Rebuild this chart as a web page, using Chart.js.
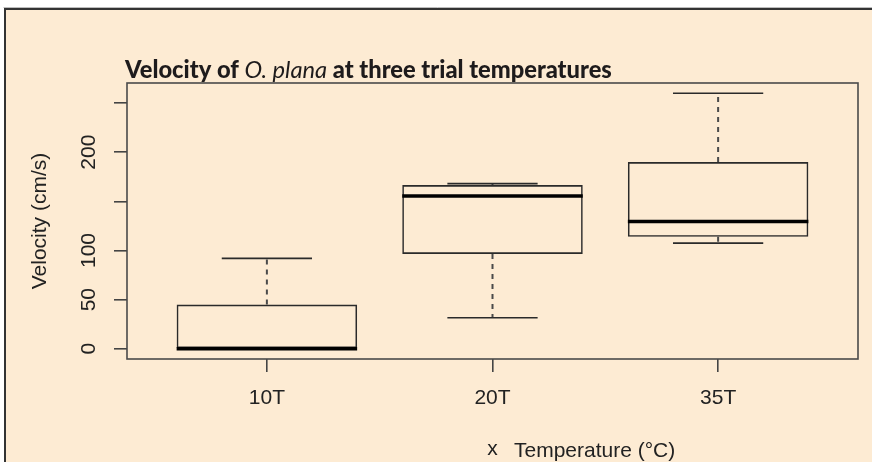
<!DOCTYPE html>
<html>
<head>
<meta charset="utf-8">
<script src="https://cdn.jsdelivr.net/npm/chart.js@4.4.1/dist/chart.umd.min.js"></script>
<style>
  html, body { margin: 0; padding: 0; background: #fff; }
  #wrap { width: 872px; height: 462px; position: relative; }
</style>
</head>
<body>
<div id="wrap"><canvas id="boxChart"></canvas></div>
<script>
// ------------------ DATA ------------------
const categories  = ['10T', '20T', '35T'];
const whiskerLow  = [0, 31.5, 107.5];
const q1          = [0, 96.5, 114];
const medians     = [0, 155.5, 129.5];
const q3          = [45, 166.5, 190];
const whiskerHigh = [92, 168, 260];
const yTicks      = [0, 50, 100, 150, 200, 250];
const yTickLabels = ['0', '50', '100', '', '200', ''];

const BG = '#FDEBD3';
const INK = '#222';
const AXIS_FONT = { family: '"Liberation Sans", Arial, sans-serif', size: 21 };

// ------------------ PLUGINS ------------------
// page background with the framed panel
const panelPlugin = {
    id: 'panel',
    beforeDraw(chart) {
        const { ctx, width, height } = chart;
        ctx.save();
        ctx.fillStyle = '#fff';
        ctx.fillRect(0, 0, width, height);
        ctx.fillStyle = BG;
        ctx.fillRect(6, 10, width - 6, height - 10);
        ctx.strokeStyle = '#bdbdbd';
        ctx.lineWidth = 1;
        ctx.beginPath();
        ctx.moveTo(3.5, 7.5); ctx.lineTo(width, 7.5);
        ctx.stroke();
        ctx.strokeStyle = '#333';
        ctx.lineWidth = 2;
        ctx.beginPath();
        ctx.moveTo(width, 9); ctx.lineTo(5, 9); ctx.lineTo(5, height);
        ctx.stroke();
        ctx.restore();
    }
};

// whiskers, caps, medians and the plot frame
const boxPlugin = {
    id: 'boxExtras',
    beforeDatasetsDraw(chart) {
        const { ctx } = chart;
        const y = chart.scales.y;
        const bars = chart.getDatasetMeta(0).data;
        ctx.save();
        bars.forEach((bar, i) => {
            const cx = bar.x;
            const half = bar.width / 4;
            // dashed whiskers
            ctx.strokeStyle = '#4a4a4a';
            ctx.lineWidth = 2;
            ctx.setLineDash([5, 5]);
            ctx.beginPath();
            ctx.moveTo(cx, y.getPixelForValue(q3[i]));
            ctx.lineTo(cx, y.getPixelForValue(whiskerHigh[i]));
            ctx.moveTo(cx, y.getPixelForValue(q1[i]));
            ctx.lineTo(cx, y.getPixelForValue(whiskerLow[i]));
            ctx.stroke();
            // caps
            ctx.setLineDash([]);
            ctx.strokeStyle = '#2a2a2a';
            ctx.lineWidth = 1.6;
            ctx.beginPath();
            [whiskerHigh[i], whiskerLow[i]].forEach(v => {
                const py = y.getPixelForValue(v);
                ctx.moveTo(cx - half, py);
                ctx.lineTo(cx + half, py);
            });
            ctx.stroke();
        });
        ctx.restore();
    },
    afterDatasetsDraw(chart) {
        const { ctx, chartArea: a } = chart;
        const y = chart.scales.y;
        const bars = chart.getDatasetMeta(0).data;
        ctx.save();
        ctx.strokeStyle = '#000';
        ctx.lineWidth = 3.5;
        bars.forEach((bar, i) => {
            const py = y.getPixelForValue(medians[i]);
            ctx.beginPath();
            ctx.moveTo(bar.x - bar.width / 2, py);
            ctx.lineTo(bar.x + bar.width / 2, py);
            ctx.stroke();
        });
        ctx.strokeStyle = '#4a4a4a';
        ctx.lineWidth = 1.6;
        ctx.strokeRect(a.left, a.top, a.right - a.left, a.bottom - a.top);
        ctx.restore();
    }
};

// heading with italic species name and the added axis caption
const textPlugin = {
    id: 'texts',
    afterDraw(chart) {
        const { ctx } = chart;
        ctx.save();
        ctx.fillStyle = '#1e1b1c';
        ctx.textBaseline = 'alphabetic';
        ctx.textAlign = 'left';
        const parts = [
            ['Velocity of ', '900 23.7px Lato'],
            ['O. plana', 'italic 400 23.7px Lato'],
            [' at three trial temperatures', '900 23.7px Lato']
        ];
        let x = 125;
        parts.forEach(([t, f]) => {
            ctx.font = f;
            ctx.fillText(t, x, 78);
            x += ctx.measureText(t).width;
        });
        ctx.fillStyle = INK;
        ctx.font = '21px "Liberation Sans", Arial, sans-serif';
        ctx.fillText('Temperature (°C)', 514, 456.5);
        ctx.restore();
    }
};

// ------------------ CHART ------------------
function initChart() {
    const ctx = document.getElementById('boxChart').getContext('2d');
    new Chart(ctx, {
        type: 'bar',
        data: {
            datasets: [{
                data: categories.map((c, i) => ({ x: i + 1, y: [q1[i], q3[i]] })),
                backgroundColor: 'rgba(0,0,0,0)',
                borderColor: '#2a2a2a',
                borderWidth: 1.6,
                borderSkipped: false,
                categoryPercentage: 0.8,
                barPercentage: 1
            }]
        },
        options: {
            responsive: true,
            maintainAspectRatio: false,
            animation: false,
            devicePixelRatio: 1,
            layout: { padding: { top: 83, right: 14, left: 0, bottom: 0 } },
            plugins: {
                legend: { display: false },
                tooltip: { enabled: false },
                title: { display: false }
            },
            scales: {
                x: {
                    type: 'linear',
                    min: 0.38,
                    max: 3.62,
                    offset: false,
                    afterBuildTicks: (s) => { s.ticks = categories.map((c, i) => ({ value: i + 1 })); },
                    afterFit: (s) => { s.height = 103; },
                    ticks: {
                        callback: (v, i) => categories[i],
                        font: AXIS_FONT,
                        color: INK,
                        padding: 14,
                        autoSkip: false,
                        maxRotation: 0
                    },
                    grid: { offset: false, drawOnChartArea: false, drawTicks: true, tickLength: 13, color: '#444', lineWidth: 1.6 },
                    border: { display: false },
                    title: { display: true, text: 'x', font: AXIS_FONT, color: INK, padding: { top: 0, bottom: 0 } }
                },
                y: {
                    min: -10.4,
                    max: 270.4,
                    afterBuildTicks: (s) => { s.ticks = yTicks.map(v => ({ value: v })); },
                    afterFit: (s) => { s.width = 127; },
                    ticks: {
                        callback: (v, i) => yTickLabels[i],
                        font: AXIS_FONT,
                        color: INK,
                        minRotation: 90,
                        maxRotation: 90,
                        crossAlign: 'center',
                        padding: 7.5,
                        autoSkip: false
                    },
                    grid: { drawOnChartArea: false, drawTicks: true, tickLength: 13, color: '#444', lineWidth: 1.6 },
                    border: { display: false },
                    title: { display: true, text: 'Velocity (cm/s)', font: AXIS_FONT, color: INK, padding: { top: 27.4, bottom: 0 } }
                }
            }
        },
        plugins: [panelPlugin, boxPlugin, textPlugin]
    });
}

document.addEventListener('DOMContentLoaded', initChart);
</script>
</body>
</html>
